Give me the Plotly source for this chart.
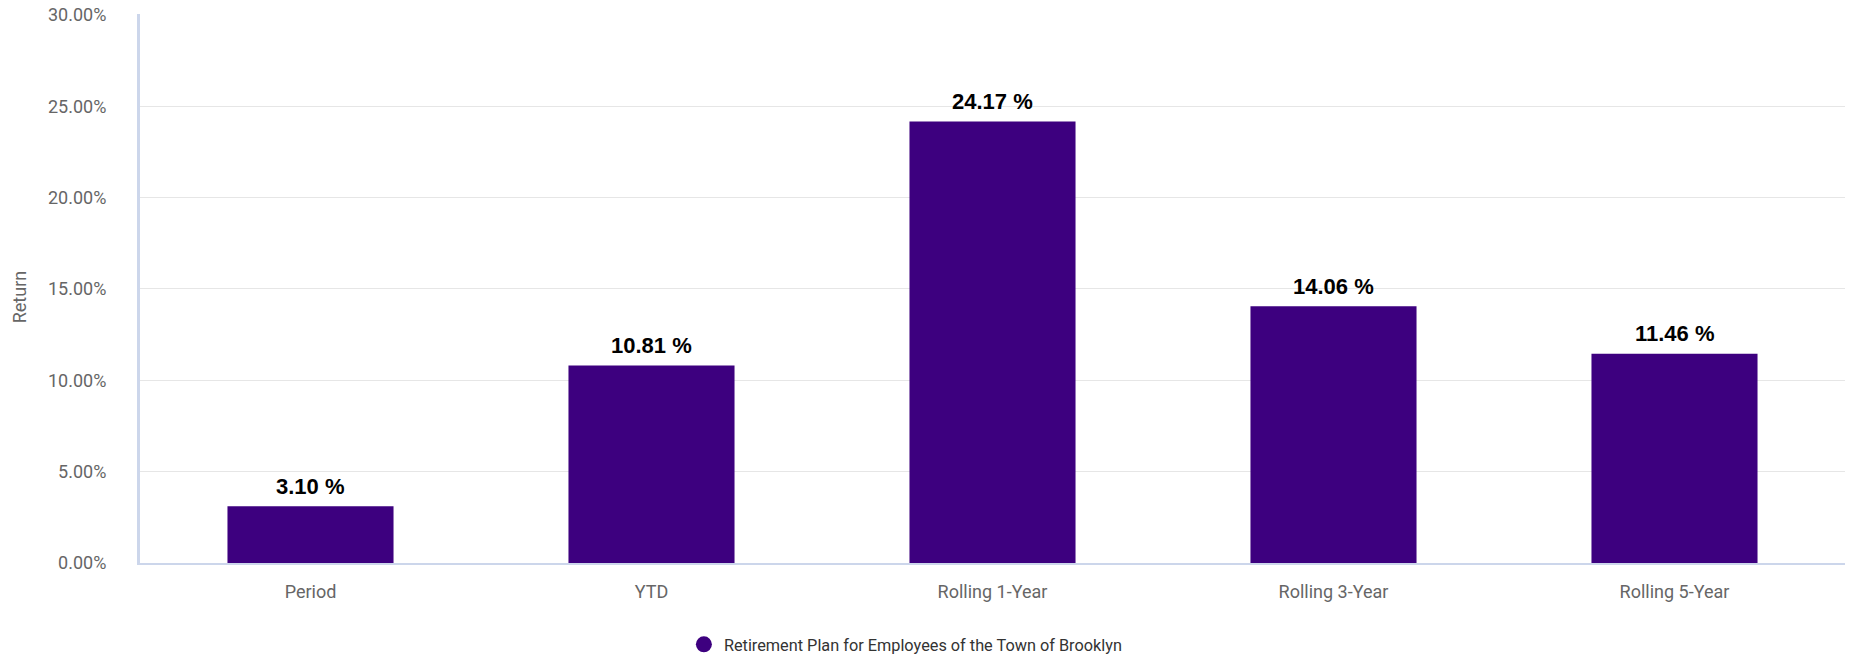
import plotly.graph_objects as go

# Plan returns by period
categories = ["Period", "YTD", "Rolling 1-Year", "Rolling 3-Year", "Rolling 5-Year"]
returns = [3.10, 10.81, 24.17, 14.06, 11.46]
series_name = "Retirement Plan for Employees of the Town of Brooklyn"
y_ticks = [0, 5, 10, 15, 20, 25, 30]
y_tick_labels = ["0.00%", "5.00%", "10.00%", "15.00%", "20.00%", "25.00%", "30.00%"]

BAR_COLOR = "#3d007f"
AXIS_COLOR = "#ccd6eb"
GRID_COLOR = "#e6e6e6"
LABEL_GRAY = "#666666"

fig = go.Figure()

fig.add_trace(go.Bar(
    x=categories,
    y=returns,
    marker=dict(color=BAR_COLOR, line=dict(width=0)),
    showlegend=False,
    hovertemplate="%{x}: %{y:.2f} %<extra></extra>",
))

# legend entry with a round symbol
fig.add_trace(go.Scatter(
    x=[None], y=[None],
    mode="markers",
    name=series_name,
    marker=dict(color=BAR_COLOR, size=16, symbol="circle"),
    showlegend=True,
))

# value labels above each bar
for cat, val in zip(categories, returns):
    fig.add_annotation(
        x=cat, y=val, xref="x", yref="y",
        text=f"{val:.2f} %",
        showarrow=False,
        yanchor="middle",
        yshift=20,
        font=dict(family="Liberation Sans, Arial", size=22, color="#000000", weight="bold"),
    )

# rotated axis title
fig.add_annotation(
    x=0, y=0.484, xref="paper", yref="paper",
    xanchor="center", yanchor="middle",
    xshift=-121,
    text="Return",
    textangle=-90,
    showarrow=False,
    font=dict(family="Roboto", size=18, color=LABEL_GRAY),
)

fig.update_layout(
    width=1851,
    height=662,
    margin=dict(l=140, r=6, t=14, b=99, autoexpand=False),
    paper_bgcolor="white",
    plot_bgcolor="white",
    bargap=0.513,
    font=dict(family="Roboto", size=18, color=LABEL_GRAY),
    showlegend=True,
    legend=dict(
        orientation="h",
        x=0.319, xanchor="left",
        y=-0.117, yanchor="top",
        font=dict(family="Roboto", size=16.3, color="#333333"),
        bgcolor="rgba(0,0,0,0)",
    ),
    xaxis=dict(
        showline=True,
        linecolor=AXIS_COLOR,
        linewidth=2,
        showgrid=False,
        zeroline=False,
        ticks="",
        tickfont=dict(family="Roboto", size=18, color=LABEL_GRAY),
        ticklabelstandoff=11,
        fixedrange=True,
    ),
    yaxis=dict(
        range=[0, 30.05],
        tickvals=y_ticks,
        ticktext=y_tick_labels,
        showline=True,
        linecolor=AXIS_COLOR,
        linewidth=3,
        showgrid=True,
        gridcolor=GRID_COLOR,
        gridwidth=1,
        zeroline=False,
        ticks="",
        tickfont=dict(family="Roboto", size=18, color=LABEL_GRAY),
        ticklabelstandoff=27,
        fixedrange=True,
    ),
)

fig.write_html("out.html", config={"displayModeBar": False})
